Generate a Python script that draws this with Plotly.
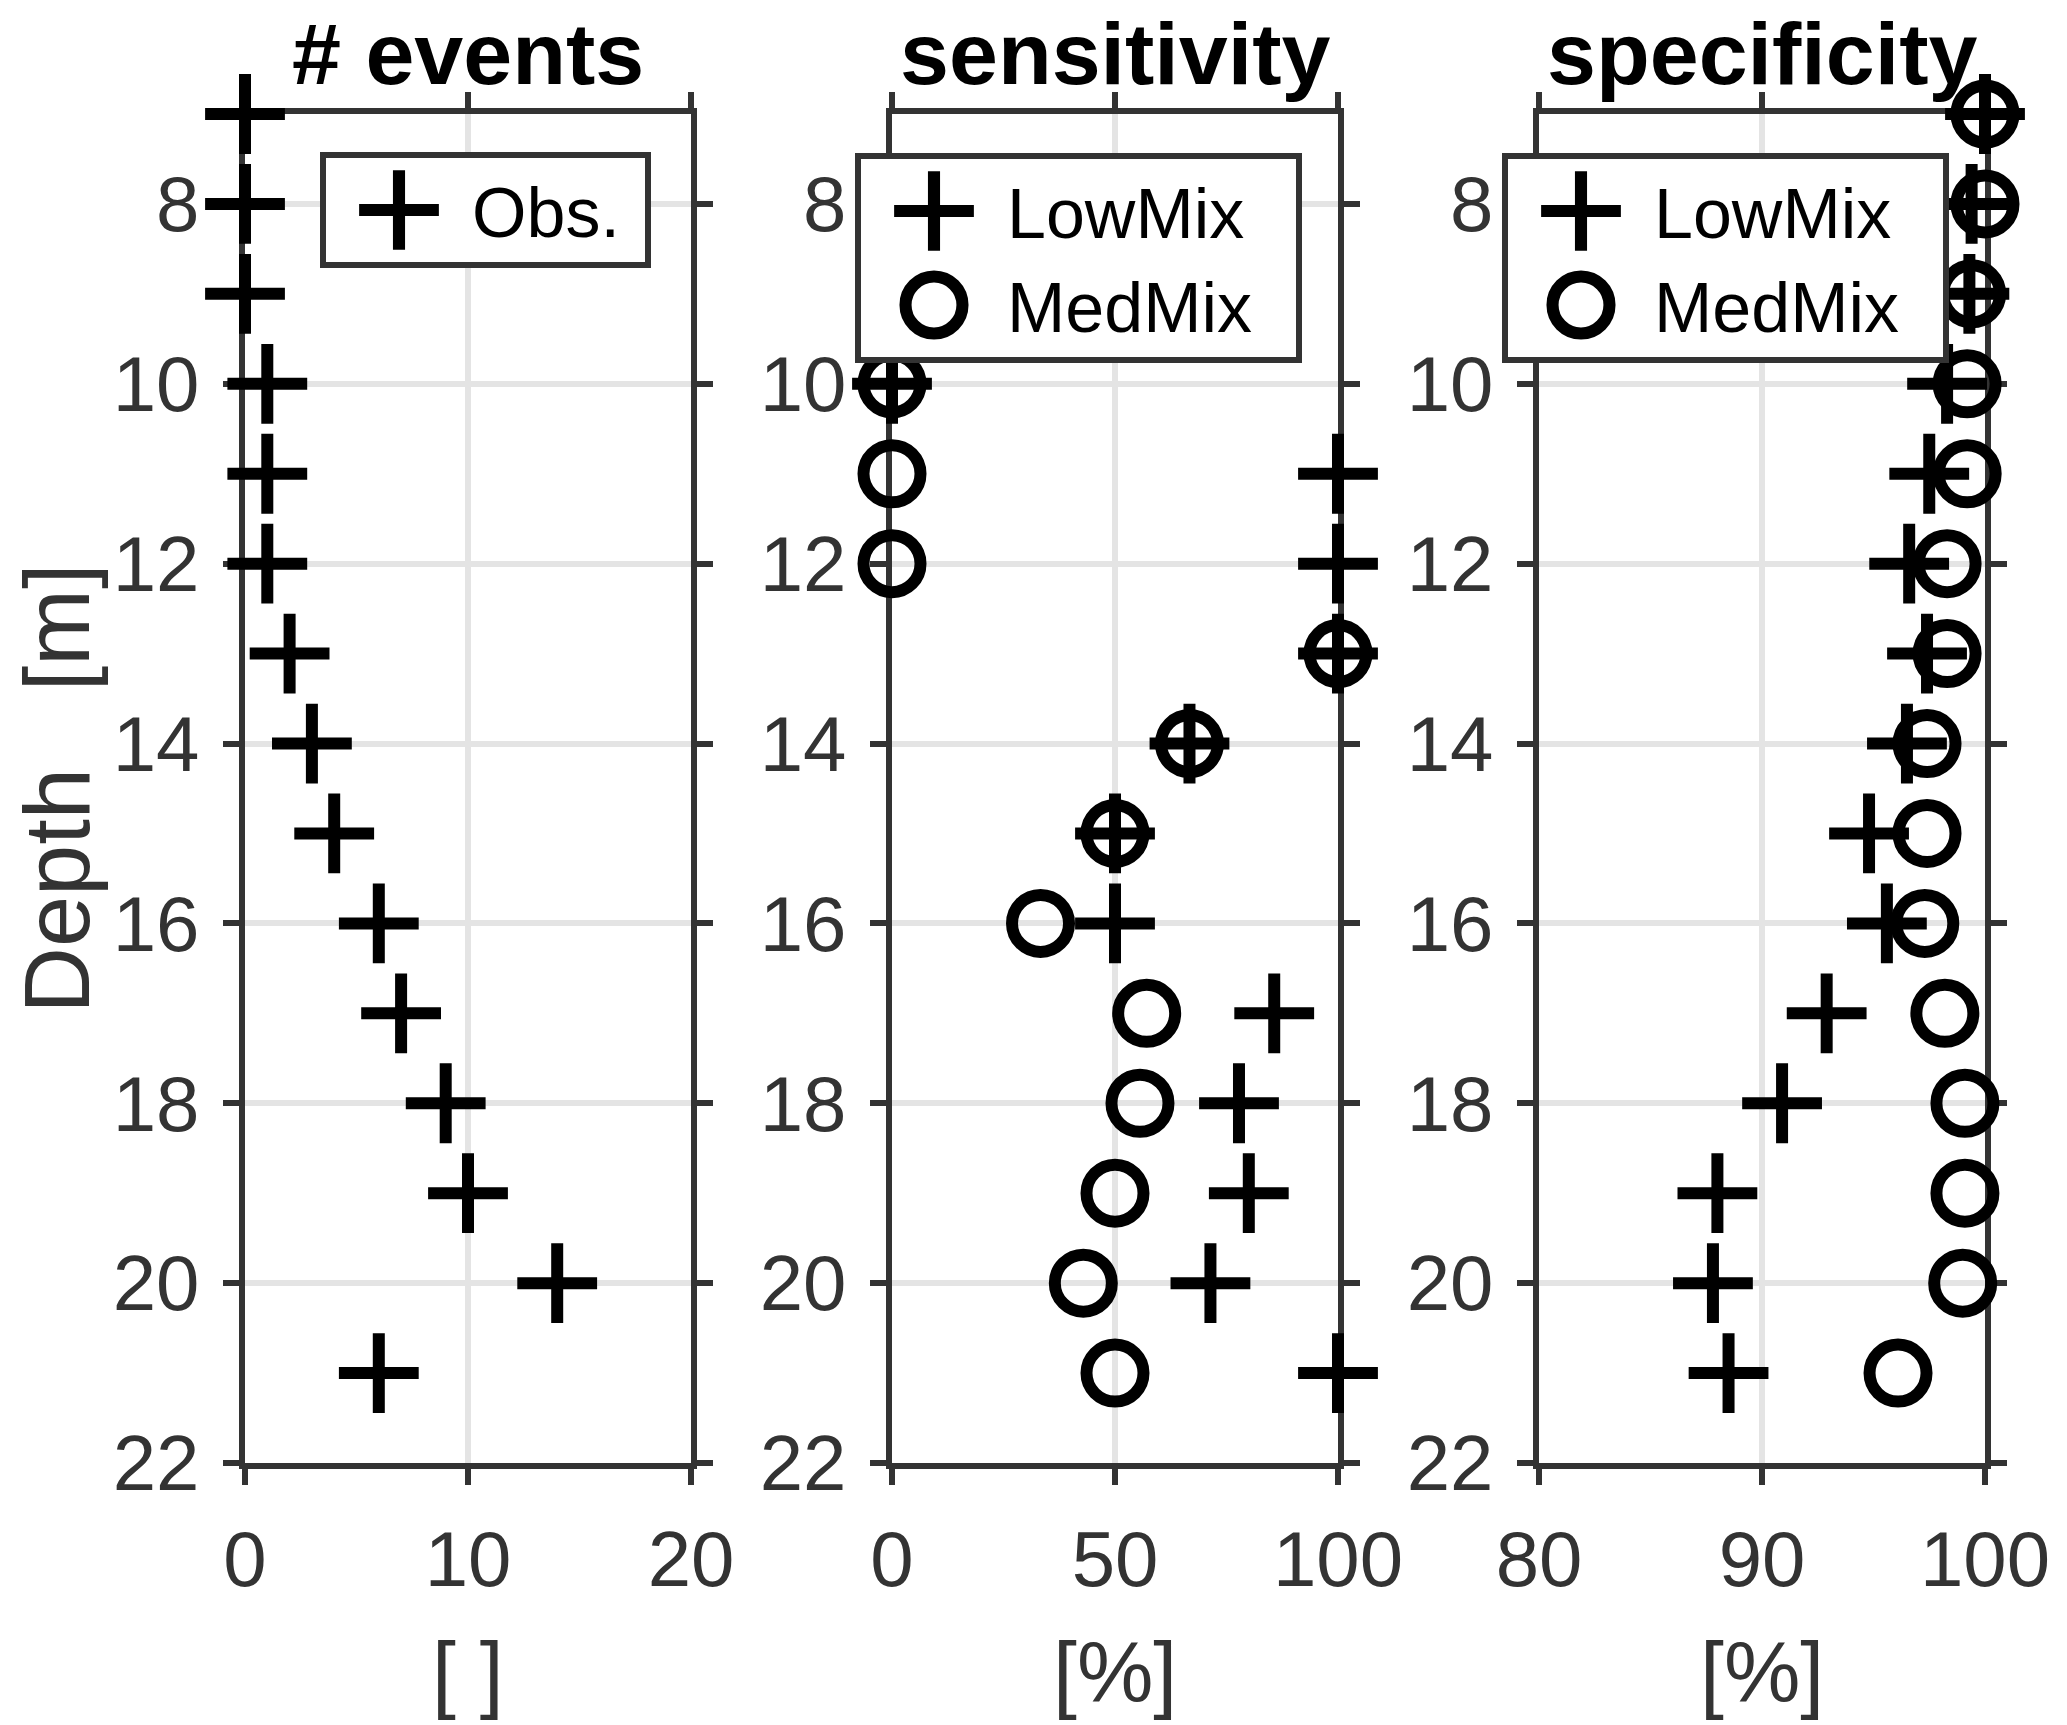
import plotly.graph_objects as go

# Depth of each row [m]
depth = list(range(7, 22))

# number of observed events per depth
events_obs = [0, 0, 0, 1, 1, 1, 2, 3, 4, 6, 7, 9, 10, 14, 6]

# sensitivity [%] (no events above 10 m -> undefined)
sens_low = [None, None, None, 0, 100, 100, 100, 66.7, 50, 50, 85.7, 77.8, 80, 71.4, 100]
sens_med = [None, None, None, 0, 0, 0, 100, 66.7, 50, 33.3, 57.1, 55.6, 50, 42.9, 50]

# specificity [%]
spec_low = [100, 99.4, 99.3, 98.3, 97.5, 96.6, 97.4, 96.5, 94.8, 95.6, 92.9, 90.9, 88.0, 87.8, 88.5]
spec_med = [100, 100, 99.4, 99.2, 99.2, 98.3, 98.3, 97.4, 97.4, 97.3, 98.2, 99.1, 99.1, 99.0, 96.1]

panel_titles = ["# events", "sensitivity", "specificity"]
x_labels = ["[ ]", "[%]", "[%]"]
x_ranges = [[0, 20], [0, 100], [80, 100]]
x_dticks = [10, 50, 10]
y_label = "Depth\u00a0\u00a0\u00a0[m]"

W, H = 2067, 1725
FONT = "Liberation Sans, Arial, sans-serif"
AXC = "#333333"
GRIDC = "#e4e4e4"
PAD = "\u00a0"          # a bit of room on the right of the legend text
PAD2 = "\u00a0\u00a0"

plus = dict(symbol="cross-thin", size=57, color="black", line=dict(width=12, color="black"))
ring = dict(symbol="circle-open", size=57, color="black", line=dict(width=12, color="black"))

x_domains = [[245 / W, 691 / W], [892 / W, 1338 / W], [1539 / W, 1985 / W]]
y_domain = [1 - 1463 / H, 1 - 114 / H]

fig = go.Figure()

# panel 1: observed events
fig.add_trace(go.Scatter(x=events_obs, y=depth, mode="markers", marker=plus, name="Obs." + PAD,
                         xaxis="x", yaxis="y", legend="legend", cliponaxis=False))
# panel 2: sensitivity
fig.add_trace(go.Scatter(x=sens_low, y=depth, mode="markers", marker=plus, name="LowMix" + PAD2,
                         xaxis="x2", yaxis="y2", legend="legend2", cliponaxis=False))
fig.add_trace(go.Scatter(x=sens_med, y=depth, mode="markers", marker=ring, name="MedMix" + PAD2,
                         xaxis="x2", yaxis="y2", legend="legend2", cliponaxis=False))
# panel 3: specificity
fig.add_trace(go.Scatter(x=spec_low, y=depth, mode="markers", marker=plus, name="LowMix" + PAD2,
                         xaxis="x3", yaxis="y3", legend="legend3", cliponaxis=False))
fig.add_trace(go.Scatter(x=spec_med, y=depth, mode="markers", marker=ring, name="MedMix" + PAD2,
                         xaxis="x3", yaxis="y3", legend="legend3", cliponaxis=False))
for tr in fig.data:
    tr.showlegend = True

axis_common = dict(
    showline=True, linecolor=AXC, linewidth=6, mirror="ticks",
    ticks="outside", ticklen=16, tickwidth=6, tickcolor=AXC,
    showgrid=True, gridcolor=GRIDC, gridwidth=6,
    zeroline=False, automargin=False, layer="below traces",
    tickfont=dict(family=FONT, size=78, color=AXC),
)

layout = dict(
    width=W, height=H,
    margin=dict(l=0, r=0, t=0, b=0),
    paper_bgcolor="white", plot_bgcolor="white",
    template="none", showlegend=True,
    font=dict(family=FONT, color="black"),
    annotations=[],
)

for i in range(3):
    sfx = "" if i == 0 else str(i + 1)
    layout["xaxis" + sfx] = dict(axis_common, domain=x_domains[i], range=x_ranges[i],
                                 dtick=x_dticks[i], tick0=0, anchor="y" + sfx,
                                 ticklabelstandoff=7)
    layout["yaxis" + sfx] = dict(axis_common, domain=y_domain, range=[22, 7],
                                 dtick=2, tick0=0, anchor="x" + sfx,
                                 ticklabelstandoff=8)
    xc = (x_domains[i][0] + x_domains[i][1]) / 2
    layout["annotations"].append(dict(
        text="<b>" + panel_titles[i] + "</b>", x=xc, y=1 - 54 / H, xref="paper", yref="paper",
        xanchor="center", yanchor="middle", showarrow=False,
        font=dict(family=FONT, size=88, color="black")))
    layout["annotations"].append(dict(
        text=x_labels[i], x=xc, y=1 - 1672 / H, xref="paper", yref="paper",
        xanchor="center", yanchor="middle", showarrow=False,
        font=dict(family=FONT, size=86, color=AXC)))

layout["annotations"].append(dict(
    text=y_label, x=56 / W, y=(y_domain[0] + y_domain[1]) / 2, xref="paper", yref="paper",
    xanchor="center", yanchor="middle", textangle=-90, showarrow=False,
    font=dict(family=FONT, size=92, color=AXC)))

legend_common = dict(
    bgcolor="white", bordercolor=AXC, borderwidth=6,
    font=dict(family=FONT, size=70, color="black"),
    itemwidth=136, xanchor="left", yanchor="top", tracegroupgap=0,
)
layout["legend"] = dict(legend_common, x=320 / W, y=1 - 152 / H)
layout["legend2"] = dict(legend_common, x=855 / W, y=1 - 153 / H)
layout["legend3"] = dict(legend_common, x=1502 / W, y=1 - 153 / H)

fig.update_layout(**layout)

# plotly caps legend symbol sizes; scale them up to match the plotted markers
post = """
document.body.style.margin = '0';
var gd = document.getElementById('{plot_id}');
function bigSymbols() {
  gd.querySelectorAll('.legendpoints path.scatterpts').forEach(function (p) {
    var t = p.getAttribute('transform') || '';
    if (t.indexOf('scale') < 0) { p.setAttribute('transform', t + ' scale(3.56)'); }
    p.style.strokeWidth = '3.4px';
  });
}
bigSymbols();
gd.on('plotly_afterplot', bigSymbols);
"""

fig.write_html("out.html", post_script=post, config={"displayModeBar": False})
